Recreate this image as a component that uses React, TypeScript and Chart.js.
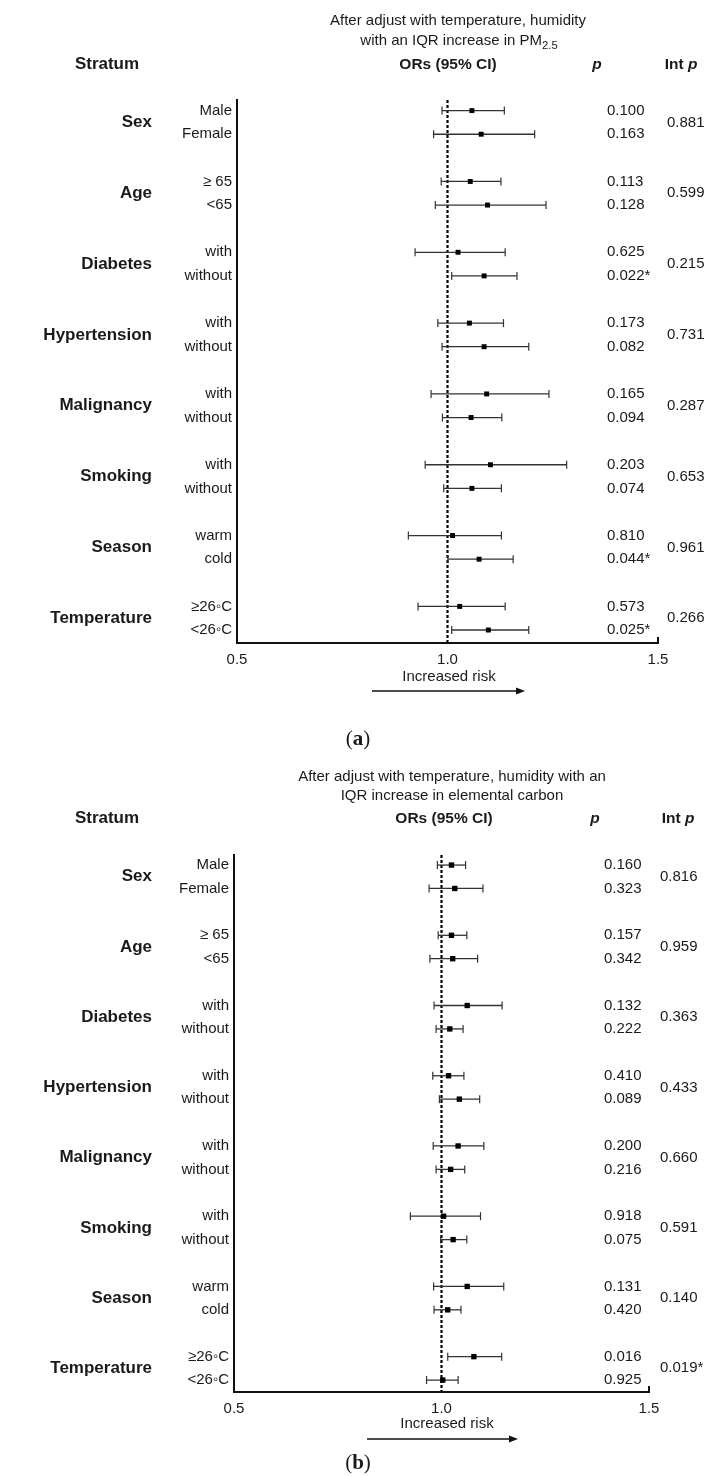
import React, { useEffect, useRef } from "react";
import { Chart, registerables } from "chart.js";
Chart.register(...registerables);

// ---------- data ----------
const groups = ["Sex", "Age", "Diabetes", "Hypertension", "Malignancy", "Smoking", "Season", "Temperature"];
const subLabels = ["Male", "Female", "\u2265 65", "<65", "with", "without", "with", "without", "with", "without", "with", "without", "warm", "cold", "\u226526\u25E6C", "<26\u25E6C"];
const xTicks = [0.5, 1.0, 1.5];

const orA = [1.058, 1.080, 1.054, 1.095, 1.025, 1.087, 1.052, 1.087, 1.093, 1.056, 1.102, 1.058, 1.012, 1.075, 1.029, 1.097];
const loA = [0.987, 0.967, 0.985, 0.971, 0.923, 1.010, 0.977, 0.987, 0.961, 0.988, 0.947, 0.991, 0.907, 1.001, 0.930, 1.010];
const hiA = [1.135, 1.207, 1.127, 1.234, 1.137, 1.165, 1.133, 1.193, 1.241, 1.129, 1.283, 1.128, 1.128, 1.156, 1.137, 1.193];
const pA = ["0.100", "0.163", "0.113", "0.128", "0.625", "0.022*", "0.173", "0.082", "0.165", "0.094", "0.203", "0.074", "0.810", "0.044*", "0.573", "0.025*"];
const intPA = ["0.881", "0.599", "0.215", "0.731", "0.287", "0.653", "0.961", "0.266"];

const orB = [1.024, 1.032, 1.024, 1.027, 1.062, 1.020, 1.017, 1.043, 1.040, 1.022, 1.005, 1.028, 1.062, 1.015, 1.078, 1.003];
const loB = [0.990, 0.970, 0.992, 0.972, 0.982, 0.987, 0.979, 0.995, 0.980, 0.987, 0.925, 0.998, 0.981, 0.982, 1.015, 0.964];
const hiB = [1.058, 1.100, 1.061, 1.087, 1.146, 1.052, 1.054, 1.092, 1.102, 1.056, 1.094, 1.061, 1.150, 1.047, 1.145, 1.040];
const pB = ["0.160", "0.323", "0.157", "0.342", "0.132", "0.222", "0.410", "0.089", "0.200", "0.216", "0.918", "0.075", "0.131", "0.420", "0.016", "0.925"];
const intPB = ["0.816", "0.959", "0.363", "0.433", "0.660", "0.591", "0.140", "0.019*"];

// ---------- layout ----------
const FONT = "'Liberation Sans', Arial, sans-serif";
const W = 707;
const rowPos = (i: number) => Math.floor(i / 2) * 3 + (i % 2);
const groupPos = (g: number) => g * 3 + 0.5;

type Geo = {
  canvasTop: number; H: number; top: number; bottom: number; left: number; right: number;
  yMin: number; yMax: number; groupX: number; pX: number; intX: number;
  arrowX1: number; arrowX2: number; arrowY: number; markR: number;
};

const geoA: Geo = {
  canvasTop: 0, H: 710, top: 100, bottom: 643, left: 237, right: 658,
  yMin: -0.45, yMax: 22.55, groupX: 152, pX: 607, intX: 667,
  arrowX1: 372, arrowX2: 525, arrowY: 691, markR: 3.5,
};
const geoB: Geo = {
  canvasTop: 740, H: 710, top: 115, bottom: 652, left: 234, right: 649,
  yMin: -0.43, yMax: 22.51, groupX: 152, pX: 604, intX: 660,
  arrowX1: 367, arrowX2: 518, arrowY: 699, markR: 3.8,
};

function Panel({ geo, or, lo, hi, p, intP }: { geo: Geo; or: number[]; lo: number[]; hi: number[]; p: string[]; intP: string[] }) {
  const ref = useRef<HTMLCanvasElement | null>(null);
  useEffect(() => {
    const canvas = ref.current!;
    const g = geo;
    const annot = {
      id: "annot",
      afterDraw(chart: any) {
        const ctx = chart.ctx;
        const ys = chart.scales.y;
        const xs = chart.scales.x;
        ctx.save();
        ctx.fillStyle = "#1a1a1a";
        ctx.textBaseline = "middle";
        ctx.font = `bold 17px ${FONT}`;
        ctx.textAlign = "right";
        groups.forEach((name, gi) => ctx.fillText(name, g.groupX, ys.getPixelForValue(groupPos(gi))));
        ctx.font = `15px ${FONT}`;
        ctx.textAlign = "left";
        p.forEach((t, i) => ctx.fillText(t, g.pX, ys.getPixelForValue(rowPos(i))));
        intP.forEach((t, gi) => ctx.fillText(t, g.intX, ys.getPixelForValue(groupPos(gi))));
        // tick at axis end
        const xe = xs.getPixelForValue(xTicks[xTicks.length - 1]);
        ctx.strokeStyle = "#111";
        ctx.lineWidth = 2;
        ctx.beginPath();
        ctx.moveTo(xe, chart.chartArea.bottom);
        ctx.lineTo(xe, chart.chartArea.bottom - 6);
        ctx.stroke();
        // arrow
        ctx.lineWidth = 1.5;
        ctx.beginPath();
        ctx.moveTo(g.arrowX1, g.arrowY);
        ctx.lineTo(g.arrowX2 - 7, g.arrowY);
        ctx.stroke();
        ctx.fillStyle = "#111";
        ctx.beginPath();
        ctx.moveTo(g.arrowX2, g.arrowY);
        ctx.lineTo(g.arrowX2 - 9, g.arrowY - 3.5);
        ctx.lineTo(g.arrowX2 - 9, g.arrowY + 3.5);
        ctx.closePath();
        ctx.fill();
        ctx.restore();
      },
    };
    const datasets: any[] = [
      {
        data: or.map((v, i) => ({ x: v, y: rowPos(i) })),
        pointStyle: "rect",
        pointRadius: g.markR,
        pointBackgroundColor: "#000",
        pointBorderWidth: 0,
        order: 0,
      },
      ...lo.map((l, i) => ({
        data: [{ x: l, y: rowPos(i) }, { x: hi[i], y: rowPos(i) }],
        showLine: true,
        borderColor: "#333",
        borderWidth: 1.3,
        pointStyle: "line",
        pointRotation: 90,
        pointRadius: 4,
        pointBorderColor: "#333",
        pointBorderWidth: 1.2,
        order: 1,
      })),
      {
        data: [{ x: 1, y: g.yMin }, { x: 1, y: g.yMax }],
        showLine: true,
        borderColor: "#000",
        borderWidth: 2.2,
        borderDash: [3, 2],
        pointRadius: 0,
        order: 2,
      },
    ];
    const chart = new Chart(canvas, {
      type: "scatter",
      data: { datasets },
      options: {
        animation: false,
        responsive: false,
        maintainAspectRatio: false,
        devicePixelRatio: 1,
        layout: { padding: { top: g.top, left: 0, right: W - g.right, bottom: 0 } },
        plugins: { legend: { display: false }, tooltip: { enabled: false } },
        scales: {
          x: {
            type: "linear",
            min: xTicks[0],
            max: xTicks[xTicks.length - 1],
            afterBuildTicks: (s: any) => { s.ticks = xTicks.map((v) => ({ value: v })); },
            afterFit: (s: any) => { s.height = g.H - g.bottom; },
            grid: { display: false, drawTicks: false },
            border: { display: true, color: "#111", width: 2 },
            ticks: {
              padding: 8, color: "#1a1a1a", font: { family: FONT, size: 15 }, maxRotation: 0, autoSkip: false,
              callback: (v: any) => Number(v).toFixed(1),
            },
          },
          y: {
            type: "linear",
            reverse: true,
            min: g.yMin,
            max: g.yMax,
            afterBuildTicks: (s: any) => { s.ticks = subLabels.map((_, i) => ({ value: rowPos(i) })); },
            afterFit: (s: any) => { s.width = g.left; },
            grid: { display: false, drawTicks: false },
            border: { display: true, color: "#111", width: 2 },
            ticks: {
              padding: 5, color: "#1a1a1a", font: { family: FONT, size: 15 }, autoSkip: false,
              callback: (_v: any, i: number) => subLabels[i],
            },
          },
        },
      },
      plugins: [annot],
    } as any);
    return () => chart.destroy();
  }, [geo, or, lo, hi, p, intP]);
  return (
    <canvas
      ref={ref}
      width={W}
      height={geo.H}
      style={{ position: "absolute", left: 0, top: geo.canvasTop, width: W, height: geo.H, display: "block" }}
    />
  );
}

function T({ x, y, children, style }: { x: number; y: number; children: React.ReactNode; style?: React.CSSProperties }) {
  return (
    <div
      style={{
        position: "absolute", left: x, top: y - 10, height: 20, lineHeight: "20px",
        transform: "translateX(-50%)", whiteSpace: "nowrap", fontFamily: FONT, fontSize: 15,
        color: "#1a1a1a", ...style,
      }}
    >
      {children}
    </div>
  );
}

const bold: React.CSSProperties = { fontWeight: "bold", fontSize: 15.5 };
const boldBig: React.CSSProperties = { fontWeight: "bold", fontSize: 17 };
const serifCap: React.CSSProperties = { fontFamily: "'Liberation Serif', 'DejaVu Serif', serif", fontSize: 21 };

export default function App() {
  return (
    <div style={{ position: "absolute", left: 0, top: 0, width: W, height: 1476, background: "#fff", overflow: "hidden" }}>
      <Panel geo={geoA} or={orA} lo={loA} hi={hiA} p={pA} intP={intPA} />
      <Panel geo={geoB} or={orB} lo={loB} hi={hiB} p={pB} intP={intPB} />

      <T x={458} y={20}>After adjust with temperature, humidity</T>
      <T x={459} y={40}>with an IQR increase in PM<sub style={{ fontSize: "0.75em", verticalAlign: "-0.35em", lineHeight: 0 }}>2.5</sub></T>
      <T x={107} y={64} style={boldBig}>Stratum</T>
      <T x={448} y={64} style={bold}>ORs (95% CI)</T>
      <T x={597} y={64} style={{ ...bold, fontStyle: "italic" }}>p</T>
      <T x={681} y={64} style={bold}>Int <i>p</i></T>
      <T x={449} y={676}>Increased risk</T>
      <T x={358} y={738} style={serifCap}>(<b>a</b>)</T>

      <T x={452} y={776}>After adjust with temperature, humidity with an</T>
      <T x={452} y={795}>IQR increase in elemental carbon</T>
      <T x={107} y={818} style={boldBig}>Stratum</T>
      <T x={444} y={818} style={bold}>ORs (95% CI)</T>
      <T x={595} y={818} style={{ ...bold, fontStyle: "italic" }}>p</T>
      <T x={678} y={818} style={bold}>Int <i>p</i></T>
      <T x={447} y={1423}>Increased risk</T>
      <T x={358} y={1462} style={serifCap}>(<b>b</b>)</T>
    </div>
  );
}
